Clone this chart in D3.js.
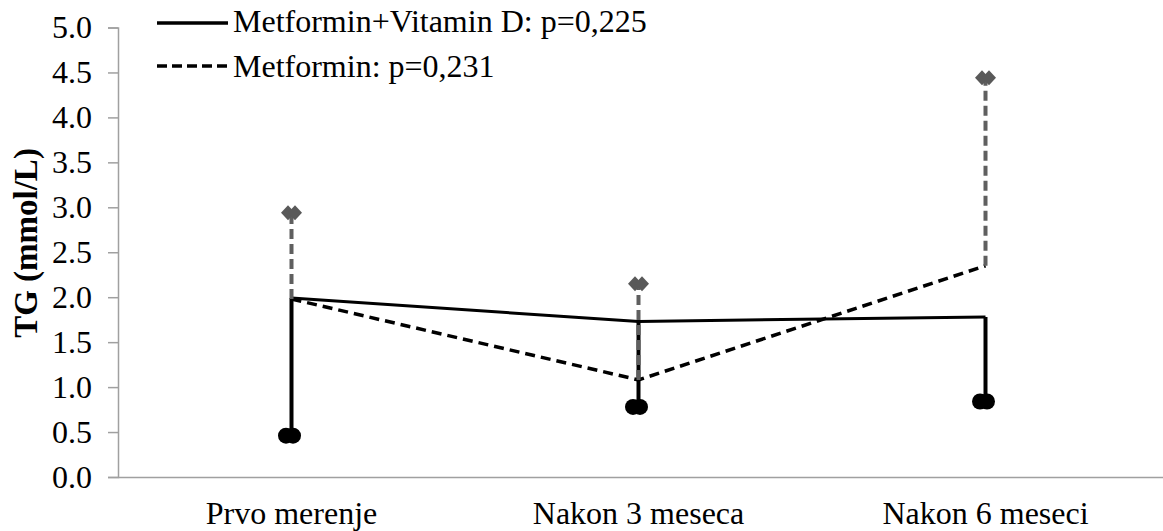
<!DOCTYPE html>
<html><head><meta charset="utf-8">
<script src="https://cdn.jsdelivr.net/npm/d3@7"></script>
<style>html,body{margin:0;padding:0;background:#fff;}svg{display:block;}text{font-family:"Liberation Serif","Times New Roman",serif;}</style>
</head><body>
<script>
const categories = ["Prvo merenje", "Nakon 3 meseca", "Nakon 6 meseci"];
const seriesNames = ["Metformin+Vitamin D: p=0,225", "Metformin: p=0,231"];
const metVitD = [1.99, 1.73, 1.78];
const metVitDLow = [0.46, 0.78, 0.84];
const metformin = [1.98, 1.08, 2.35];
const metforminHigh = [2.94, 2.15, 4.44];
const yTicks = [0, 0.5, 1, 1.5, 2, 2.5, 3, 3.5, 4, 4.5, 5];
const yTitle = "TG (mmol/L)";

const W = 1163, H = 531;
const FS = 32;
const svg = d3.select("body").append("svg").attr("width", W).attr("height", H);
const x = d3.scaleBand().domain(categories).range([118, 1159]).padding(0);
const y = d3.scaleLinear().domain([0, 5]).range([477, 27.5]);
const cx = c => x(c) + x.bandwidth() / 2;
const axisColor = "#a0a0a0";

// y axis
const yAxis = svg.append("g").attr("transform", "translate(118,0)")
  .call(d3.axisLeft(y).tickValues(yTicks).tickFormat(d3.format(".1f")).tickSize(10).tickPadding(16));
yAxis.select(".domain").attr("stroke", axisColor).attr("stroke-width", 1.5);
yAxis.selectAll(".tick line").attr("stroke", axisColor).attr("stroke-width", 1.5);
yAxis.selectAll("text").attr("font-size", FS).attr("fill", "#000").attr("font-family", "Liberation Serif");

// x axis
const xAxis = svg.append("g").attr("transform", "translate(0,477)")
  .call(d3.axisBottom(x).tickSize(0));
xAxis.select(".domain").attr("stroke", axisColor).attr("stroke-width", 1.5).attr("d", "M118,0.5H1163");
xAxis.selectAll("text").attr("font-size", FS).attr("fill", "#000").attr("font-family", "Liberation Serif")
  .attr("y", 47).attr("dy", null);

// y title
svg.append("text").attr("transform", "translate(25,243) rotate(-90)")
  .attr("text-anchor", "middle").attr("dy", "0.35em").attr("font-size", 33).attr("font-weight", "bold").text(yTitle);

// solid error bars (downward)
svg.append("g").selectAll("line").data(categories).join("line")
  .attr("x1", (d) => cx(d)).attr("x2", (d) => cx(d))
  .attr("y1", (d, i) => y(metVitD[i])).attr("y2", (d, i) => y(metVitDLow[i]))
  .attr("stroke", "#000").attr("stroke-width", 4);

// lines
const line = d3.line().x((d, i) => cx(categories[i])).y(d => y(d));
svg.append("path").datum(metVitD).attr("d", line).attr("fill", "none")
  .attr("stroke", "#000").attr("stroke-width", 3).attr("stroke-linejoin", "round");
svg.append("path").datum(metformin).attr("d", line).attr("fill", "none")
  .attr("stroke", "#000").attr("stroke-width", 3.5).attr("stroke-dasharray", "10,6");

// dashed error bars (upward)
svg.append("g").selectAll("line").data(categories).join("line")
  .attr("x1", (d) => cx(d)).attr("x2", (d) => cx(d))
  .attr("y1", (d, i) => y(metformin[i])).attr("y2", (d, i) => y(metforminHigh[i]))
  .attr("stroke", "#5f5f5f").attr("stroke-width", 4).attr("stroke-dasharray", "10,5");

// ellipse markers (two overlapping circles)
const ell = svg.append("g");
categories.forEach((c, i) => {
  [-3.5, 3.5].forEach(o => {
    ell.append("circle").attr("cx", cx(c) - 2 + o).attr("cy", y(metVitDLow[i])).attr("r", 8).attr("fill", "#000");
  });
});
// diamond markers (two overlapping)
const dia = svg.append("g");
categories.forEach((c, i) => {
  [-3.5, 3.5].forEach(o => {
    const px = cx(c) + o, py = y(metforminHigh[i]);
    dia.append("path").attr("d", `M${px},${py - 7.5}L${px + 7},${py}L${px},${py + 7.5}L${px - 7},${py}Z`).attr("fill", "#595959");
  });
});

// legend
const leg = svg.append("g");
const legLineY = [23, 66];
const legTextY = [32, 77];
leg.append("line").attr("x1", 157).attr("x2", 228).attr("y1", legLineY[0]).attr("y2", legLineY[0]).attr("stroke", "#000").attr("stroke-width", 3.5);
leg.append("line").attr("x1", 157).attr("x2", 228).attr("y1", legLineY[1]).attr("y2", legLineY[1]).attr("stroke", "#000").attr("stroke-width", 3.5).attr("stroke-dasharray", "10,5");
seriesNames.forEach((s, i) => {
  leg.append("text").attr("x", 233).attr("y", legTextY[i]).attr("font-size", FS).text(s);
});
</script>
</body></html>
